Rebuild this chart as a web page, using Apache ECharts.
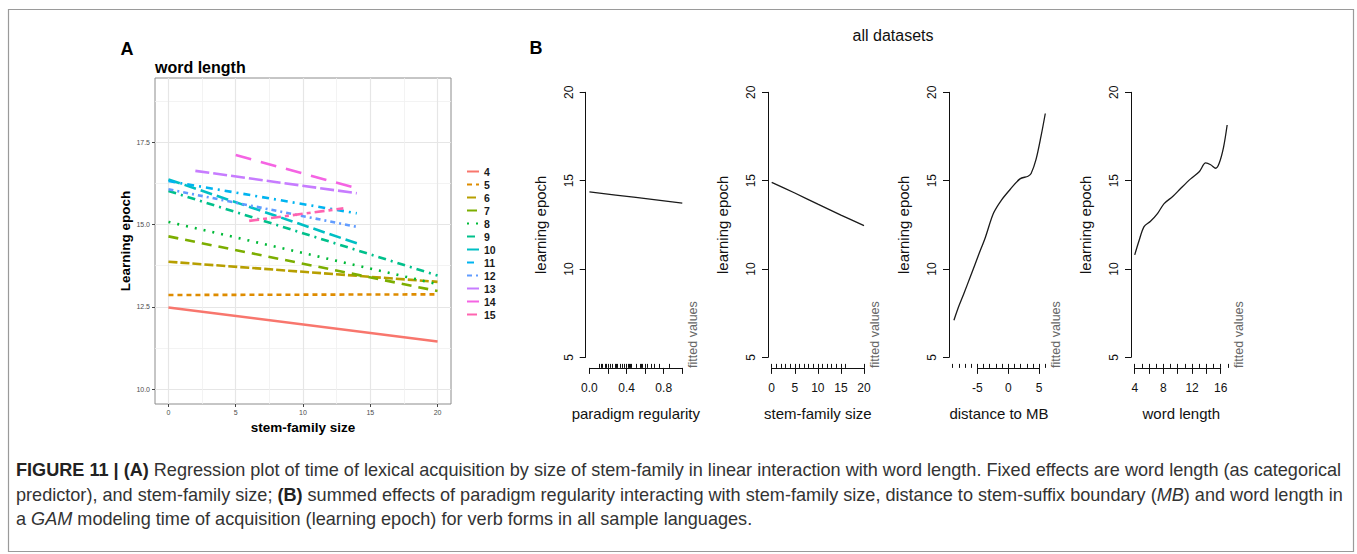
<!DOCTYPE html>
<html><head><meta charset="utf-8">
<script src="https://cdn.jsdelivr.net/npm/echarts@6/dist/echarts.min.js"></script>
<style>html,body{margin:0;padding:0;background:#fff}#c{width:1357px;height:554px}</style>
</head><body><div id="c"></div>
<script>
// ---------- Panel A data ----------
const wordLengths = ['4','5','6','7','8','9','10','11','12','13','14','15'];
const lineStartX = [0,0,0,0,0,0,0,0,0,2,5,6];
const lineEndX   = [20,20,20,20,20,20,14,14,14,14,14,13];
const lineStartY = [12.48,12.86,13.87,14.64,15.08,16.02,16.37,16.32,16.07,16.63,17.11,15.11];
const lineEndY   = [11.45,12.88,13.26,12.98,13.19,13.45,14.43,15.34,14.93,15.95,16.10,15.49];
const aXTicks = [0,5,10,15,20];
const aYTicks = [10,12.5,15,17.5];
const aXMinor = [2.5,7.5,12.5,17.5];
const aYMinor = [11.25,13.75,16.25,18.75];

// ---------- Panel B data ----------
const regX = [0,0.5,1];
const regY = [14.36,14.05,13.73];
const sfsX = [0,5,10,15,20];
const sfsY = [14.9,14.3,13.67,13.05,12.45];
const mbX = [-8.8,-8.0,-7.2,-6.1,-4.8,-3.7,-2.4,-1.1,0.3,1.9,3.2,3.7,4.5,5.3,6.0];
const mbY = [7.1,7.9,8.6,9.6,10.8,11.8,13.15,13.9,14.5,15.1,15.25,15.4,16.2,17.5,18.8];
const wlX = [4,4.6,5.3,6.2,7.2,8.1,9.3,10.4,11.8,13,13.9,14.6,15.3,15.8,16.4,16.9];
const wlY = [10.8,11.6,12.4,12.7,13.15,13.7,14.1,14.55,15.1,15.5,16.0,15.9,15.7,16.0,16.9,18.15];
const regRug = [0.111,0.125,0.143,0.167,0.182,0.2,0.222,0.25,0.273,0.286,0.3,0.333,0.357,0.375,0.4,0.417,0.429,0.444,0.455,0.5,0.545,0.556,0.571,0.6,0.625,0.667,0.7,0.75,0.857];
const sfsRug = [0,1,2,3,4,5,6,7,8,9,10,11,12,13,14,15,16,20];
const mbRug = [-9,-8,-7,-6,-5,-4,-3,-2,-1,0,1,2,3,4,5,6];
const wlRug = [4,5,6,7,8,9,10,11,12,13,14,15,16,17];
const regTicks = [0,0.2,0.4,0.6,0.8,1.0];
const regLabels = [0,0.4,0.8];
const sfsTicks = [0,5,10,15,20];
const mbTicks = [-5,0,5];
const wlTicks = [4,6,8,10,12,14,16];
const wlLabels = [4,8,12,16];
const bYTicks = [5,10,15,20];

// ---------- styles ----------
const lineColors = ['#F8766D','#DE8C00','#B79F00','#7CAE00','#00BA38','#00C08B','#00BFC4','#00B4F0','#619CFF','#C77CFF','#F564E3','#FF64B0'];
const lineDashes = ['solid',[5,4],[9,3],[10,7],[2,7],[8,5,2,5],[12,5],[7,5,2,5],[5,4,2,4],[14,4],[16,10],[10,4,4,4]];
const FONT = 'Liberation Sans, Arial, sans-serif';

const grids = [], xAxes = [], yAxes = [], series = [], graphics = [];

// Panel A grid
grids.push({left:155, top:78, width:296, height:326, show:true, borderColor:'#8c8c8c', borderWidth:1, backgroundColor:'#fff'});
xAxes.push({gridIndex:0, type:'value', min:-1, max:21,
  axisLine:{show:false, onZero:false},
  axisTick:{customValues:aXTicks, length:3, lineStyle:{color:'#444'}},
  axisLabel:{customValues:aXTicks, fontSize:7, color:'#4d4d4d', margin:5, fontFamily:FONT},
  splitLine:{show:true, lineStyle:{color:'#e6e6e6', width:1.2}},
  name:'stem-family size', nameLocation:'middle', nameGap:14,
  nameTextStyle:{fontSize:13.5, fontWeight:'bold', color:'#000', fontFamily:FONT}});
xAxes.push({gridIndex:0, type:'value', min:-1, max:21, position:'top',
  axisLine:{show:false, onZero:false}, axisLabel:{show:false},
  axisTick:{show:false, customValues:aXMinor},
  splitLine:{show:true, lineStyle:{color:'#f0f0f0', width:0.8}}});
yAxes.push({gridIndex:0, type:'value', min:9.55, max:19.45,
  axisLine:{show:false, onZero:false},
  axisTick:{customValues:aYTicks, length:3, lineStyle:{color:'#444'}},
  axisLabel:{customValues:aYTicks, fontSize:7, color:'#4d4d4d', margin:5, fontFamily:FONT, formatter:v=>v.toFixed(1)},
  splitLine:{show:true, lineStyle:{color:'#e6e6e6', width:1.2}},
  name:'Learning epoch', nameLocation:'middle', nameGap:20, nameRotate:90,
  nameTextStyle:{fontSize:13.5, fontWeight:'bold', color:'#000', fontFamily:FONT}});
yAxes.push({gridIndex:0, type:'value', min:9.55, max:19.45, position:'right',
  axisLine:{show:false, onZero:false}, axisLabel:{show:false},
  axisTick:{show:false, customValues:aYMinor},
  splitLine:{show:true, lineStyle:{color:'#f0f0f0', width:0.8}}});

wordLengths.forEach((w,i)=>{
  series.push({type:'line', name:w, xAxisIndex:0, yAxisIndex:0, symbol:'none', silent:true,
    data:[[lineStartX[i],lineStartY[i]],[lineEndX[i],lineEndY[i]]],
    lineStyle:{color:lineColors[i], width:2.6, type:lineDashes[i]},
    itemStyle:{color:lineColors[i]}, z:3});
});

// Panel B
const B_TOP = 92.3, B_H = 265, AX_OFF = 10.6;
const plots = [
  {L:585.7, W:100.3, umin:-0.04, umax:1.04, xs:regX, ys:regY, rug:regRug, ticks:regTicks, labels:regLabels, fmt:v=>v.toFixed(1), name:'paradigm regularity'},
  {L:768, W:99.7, umin:-0.8, umax:20.8, xs:sfsX, ys:sfsY, rug:sfsRug, ticks:sfsTicks, labels:sfsTicks, fmt:v=>String(v), name:'stem-family size'},
  {L:949, W:100, umin:-9.6, umax:6.6, xs:mbX, ys:mbY, rug:mbRug, ticks:mbTicks, labels:mbTicks, fmt:v=>String(v), name:'distance to MB'},
  {L:1131, W:100.6, umin:3.48, umax:17.52, xs:wlX, ys:wlY, rug:wlRug, ticks:wlTicks, labels:wlLabels, fmt:v=>String(v), name:'word length'}
];
plots.forEach(p=>{
  const gD = grids.length;
  grids.push({left:p.L, top:B_TOP, width:p.W, height:B_H});
  xAxes.push({gridIndex:gD, type:'value', min:p.umin, max:p.umax, offset:AX_OFF,
    axisLine:{show:false, onZero:false}, axisLabel:{show:false}, splitLine:{show:false},
    axisTick:{show:true, inside:true, length:4, customValues:p.rug, lineStyle:{color:'#111', width:1}},
    name:p.name, nameLocation:'middle', nameGap:38,
    nameTextStyle:{fontSize:15, color:'#111', fontFamily:FONT}});
  yAxes.push({gridIndex:gD, type:'value', min:5, max:20,
    axisLine:{show:true, onZero:false, lineStyle:{color:'#111', width:1}},
    axisTick:{show:true, length:6, customValues:bYTicks, lineStyle:{color:'#111'}},
    axisLabel:{customValues:bYTicks, rotate:90, fontSize:12, margin:11, color:'#111', fontFamily:FONT},
    splitLine:{show:false},
    name:'learning epoch', nameLocation:'middle', nameRotate:90, nameGap:38,
    nameTextStyle:{fontSize:15, color:'#111', fontFamily:FONT}});
  series.push({type:'line', xAxisIndex:xAxes.length-1, yAxisIndex:yAxes.length-1, symbol:'none', silent:true, smooth:0.3,
    data:p.xs.map((x,k)=>[x,p.ys[k]]), lineStyle:{color:'#1a1a1a', width:1.3}});
  // visible x axis spanning first..last tick
  const t0 = p.ticks[0], t1 = p.ticks[p.ticks.length-1];
  const sc = p.W/(p.umax-p.umin);
  const gX = grids.length;
  grids.push({left:p.L+(t0-p.umin)*sc, top:B_TOP, width:(t1-t0)*sc, height:B_H});
  xAxes.push({gridIndex:gX, type:'value', min:t0, max:t1, offset:AX_OFF,
    axisLine:{show:true, onZero:false, lineStyle:{color:'#111', width:1}},
    axisTick:{show:true, length:6, customValues:p.ticks, lineStyle:{color:'#111'}},
    axisLabel:{customValues:p.labels, fontSize:12, margin:14, color:'#111', fontFamily:FONT, formatter:p.fmt},
    splitLine:{show:false}});
  yAxes.push({gridIndex:gX, type:'value', min:5, max:20, show:false});
  graphics.push({type:'text', x:p.L+p.W+7.3, y:B_TOP+B_H+AX_OFF, rotation:Math.PI/2,
    style:{text:'fitted values', fill:'#666', fontSize:12.5, fontFamily:FONT, textAlign:'left', textVerticalAlign:'middle'}});
});

// labels and frame
graphics.push({type:'rect', shape:{x:8.5, y:9.5, width:1345, height:542}, style:{fill:'none', stroke:'#9a9a9a', lineWidth:1.2}, z:-1});
graphics.push({type:'text', x:127, y:49, style:{text:'A', fontSize:18, fontWeight:'bold', fill:'#000', fontFamily:FONT, textAlign:'center', textVerticalAlign:'middle'}});
graphics.push({type:'text', x:536, y:48, style:{text:'B', fontSize:18, fontWeight:'bold', fill:'#000', fontFamily:FONT, textAlign:'center', textVerticalAlign:'middle'}});
graphics.push({type:'text', x:155, y:67, style:{text:'word length', fontSize:16, fontWeight:'bold', fill:'#000', fontFamily:FONT, textAlign:'left', textVerticalAlign:'middle'}});
graphics.push({type:'text', x:893, y:35, style:{text:'all datasets', fontSize:16, fill:'#111', fontFamily:FONT, textAlign:'center', textVerticalAlign:'middle'}});

const captionLines = [
  '{b|FIGURE 11 | (A)} Regression plot of time of lexical acquisition by size of stem-family in linear interaction with word length. Fixed effects are word length (as categorical',
  'predictor), and stem-family size; {b|(B)} summed effects of paradigm regularity interacting with stem-family size, distance to stem-suffix boundary ({i|MB}) and word length in',
  'a {i|GAM} modeling time of acquisition (learning epoch) for verb forms in all sample languages.'
];
const captionY = [470, 494.5, 519];
const CAP = 18.1;
captionLines.forEach((t,i)=>{
  graphics.push({type:'text', x:16, y:captionY[i], style:{text:t, fontSize:CAP, fill:'#333', fontFamily:FONT, textAlign:'left', textVerticalAlign:'middle',
    rich:{b:{fontWeight:'bold', fontSize:CAP, fill:'#222', fontFamily:FONT}, i:{fontStyle:'italic', fontSize:CAP, fill:'#333', fontFamily:FONT}}}});
});

const chart = echarts.init(document.getElementById('c'), null, {renderer:'svg'});
chart.setOption({
  animation:false,
  backgroundColor:'#fff',
  grid:grids, xAxis:xAxes, yAxis:yAxes, series:series, graphic:graphics,
  legend:{data:wordLengths, orient:'vertical', left:461, top:161, itemWidth:12, itemHeight:10, itemGap:2, selectedMode:false,
    itemStyle:{opacity:0},
    textStyle:{fontSize:10.5, fontWeight:'bold', color:'#1a1a1a', fontFamily:FONT, lineHeight:10}}
});
</script></body></html>
